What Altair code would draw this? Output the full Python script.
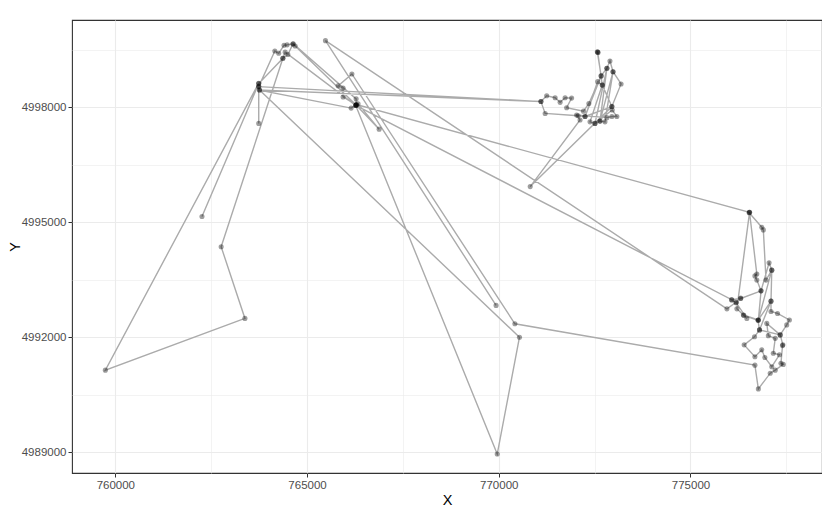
import altair as alt
import pandas as pd

# Track coordinates, in path order (UTM-like X / Y)
x_vals = [
    769930, 765480, 775950, 776190, 776310, 776080, 776190, 776470, 776380, 776770,
    776840, 777050, 777120, 777100, 777100, 777270, 777580, 777510, 777340, 777410,
    777400, 777360, 777420, 777210, 777080, 776770, 776680, 770420, 766170, 765810,
    765940, 765940, 766280, 766880, 766330, 766270, 769960, 770540, 763760, 771100,
    771250, 771470, 771600, 771730, 771900, 771770, 772210, 772350, 772670, 772820,
    772900, 772980, 773190, 772950, 772250, 772580, 772700, 772380, 772510, 772640,
    772770, 772980, 772640, 772820, 772510, 772960, 773080, 772950, 772820, 772030,
    772120, 770820, 772950, 772700, 772580, 772590, 772570, 772670, 772250, 772070,
    771210, 771100, 763740, 763740, 763740, 759740, 763380, 762760, 764370, 764500,
    764630, 764690, 766280, 766280, 764640, 764480, 764400, 764260, 764160, 763740,
    763760, 766150, 766290, 776540, 776530, 776860, 776900, 776970, 777120, 776770,
    777100, 776800, 777340, 776990, 777030, 777210, 777160, 777320, 777120, 776940,
    776860, 776680, 776400, 776670, 776800, 776760, 776390, 776210, 776540, 776730,
    776680, 776730, 776840, 776310, 776070, 766270, 764430, 764370, 763740, 762260,
]
y_vals = [
    4992830, 4999740, 4992740, 4992910, 4993020, 4992970, 4992900, 4992490, 4992580, 4992450,
    4993210, 4993940, 4993750, 4992940, 4992670, 4992620, 4992450, 4992320, 4992060, 4991800,
    4991780, 4991320, 4991290, 4991140, 4991060, 4990650, 4991270, 4992350, 4998870, 4998560,
    4998500, 4998270, 4998060, 4997430, 4998090, 4998050, 4988950, 4992000, 4998450, 4998150,
    4998300, 4998250, 4998130, 4998250, 4998240, 4997990, 4997900, 4998100, 4998820, 4999020,
    4999210, 4998930, 4998610, 4998020, 4997760, 4998670, 4998580, 4997620, 4997580, 4997640,
    4997620, 4998930, 4997640, 4999020, 4997580, 4997930, 4997760, 4997760, 4997730, 4997800,
    4997670, 4995930, 4998020, 4998580, 4999440, 4999430, 4999450, 4998820, 4997760, 4997780,
    4997840, 4998150, 4998540, 4997580, 4998630, 4991140, 4992490, 4994360, 4999280, 4999380,
    4999650, 4999600, 4998060, 4998220, 4999660, 4999630, 4999620, 4999410, 4999470, 4998540,
    4998450, 4997980, 4998070, 4995260, 4995250, 4994870, 4994800, 4993490, 4993750, 4992450,
    4992940, 4992190, 4992060, 4992360, 4992040, 4991970, 4991580, 4991540, 4991230, 4991470,
    4991670, 4991490, 4991800, 4992010, 4992190, 4992440, 4992570, 4992740, 4995260, 4993650,
    4993600, 4993490, 4993210, 4993010, 4992980, 4998050, 4999440, 4999280, 4998620, 4995150,
]

x_breaks = [760000, 765000, 770000, 775000]
x_minor = [762500, 767500, 772500, 777500]
y_breaks = [4989000, 4992000, 4995000, 4998000]
y_minor = [4990500, 4993500, 4996500, 4999500]

df = pd.DataFrame({"X": x_vals, "Y": y_vals, "step": list(range(len(x_vals)))})

FONT = "Liberation Sans"

x_axis = alt.Axis(
    values=sorted(x_breaks + x_minor),
    format="d",
    labelExpr="datum.value % 5000 === 0 ? datum.label : ''",
    tickOpacity={"condition": {"test": "datum.value % 5000 === 0", "value": 1}, "value": 0},
    gridWidth={"condition": {"test": "datum.value % 5000 === 0", "value": 1.1}, "value": 0.6},
    grid=True, gridColor="#EBEBEB", domain=False,
    tickColor="#333333", tickSize=4, tickWidth=1,
    labelColor="#4D4D4D", labelFontSize=11.5, labelFont=FONT, labelPadding=2,
    title="X", titleFont=FONT, titleFontSize=14.5, titleFontWeight="normal",
    titleColor="#000000", titleY=27, titleBaseline="middle",
)
y_axis = alt.Axis(
    values=sorted(y_breaks + y_minor),
    format="d",
    labelExpr="datum.value % 3000 === 0 ? datum.label : ''",
    tickOpacity={"condition": {"test": "datum.value % 3000 === 0", "value": 1}, "value": 0},
    gridWidth={"condition": {"test": "datum.value % 3000 === 0", "value": 1.1}, "value": 0.6},
    grid=True, gridColor="#EBEBEB", domain=False,
    tickColor="#333333", tickSize=4, tickWidth=1,
    labelColor="#4D4D4D", labelFontSize=11.5, labelFont=FONT, labelPadding=2,
    title="Y", titleFont=FONT, titleFontSize=14.5, titleFontWeight="normal",
    titleColor="#000000", titleX=-57, titleY=226.5, titleAngle=-90,
    titleBaseline="middle", titleAlign="center",
)

xs = alt.Scale(domain=[758870, 778430], nice=False, zero=False)
ys = alt.Scale(domain=[4988455, 5000279], nice=False, zero=False)

base = alt.Chart(df)
path = base.mark_line(color="#ABABAB", strokeWidth=1.4).encode(
    x=alt.X("X:Q", scale=xs, axis=x_axis),
    y=alt.Y("Y:Q", scale=ys, axis=y_axis),
    order="step:Q",
)
pts = base.mark_circle(color="#000000", opacity=0.38, size=26).encode(
    x=alt.X("X:Q", scale=xs),
    y=alt.Y("Y:Q", scale=ys),
)

chart = (path + pts).properties(
    width=750, height=453,
    autosize=alt.AutoSizeParams(type="none"),
    padding={"left": 64, "top": 12, "right": 0, "bottom": 44},
    background="#FFFFFF",
).configure_view(stroke="#333333", strokeWidth=1.1)

chart.save("out.html", embed_options={"renderer": "svg", "actions": False})
